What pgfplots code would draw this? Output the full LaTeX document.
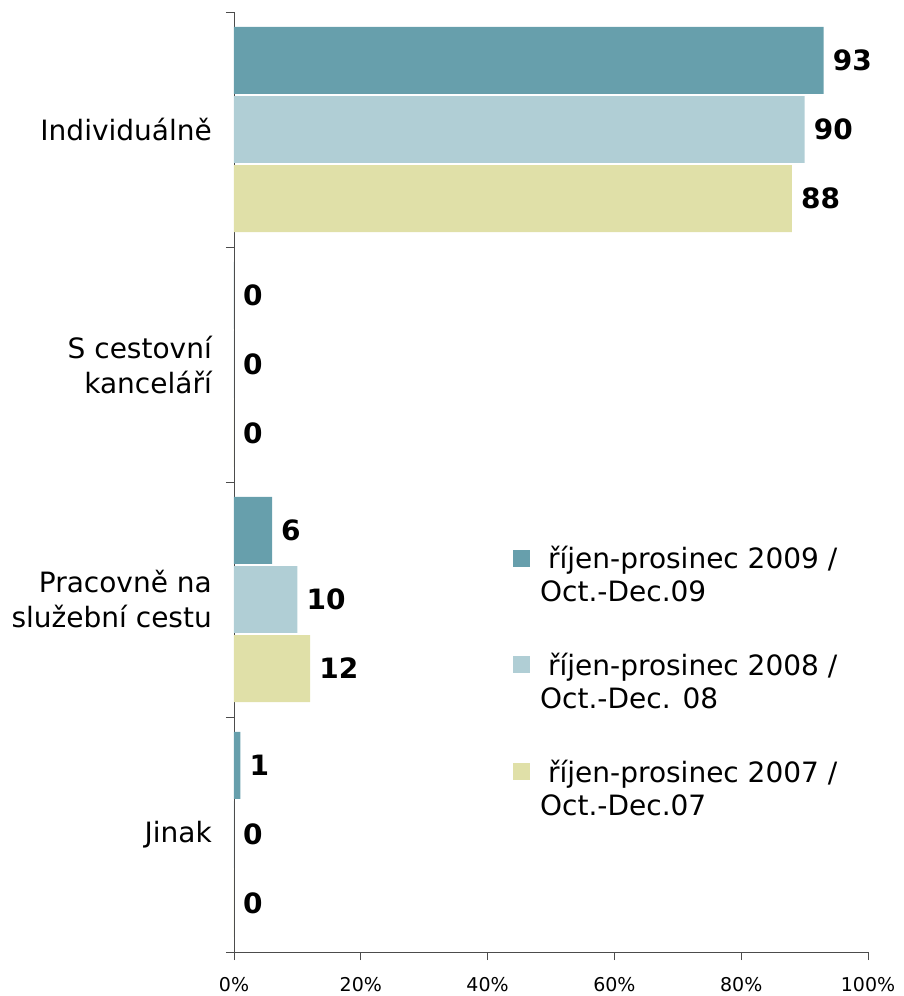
\documentclass[border=0pt]{standalone}
\usepackage{pgfplots}
\pgfplotsset{compat=1.18}
\usepackage{fontspec}
\setmainfont{DejaVu Sans}
\definecolor{c09}{RGB}{103,159,172}
\definecolor{c08}{RGB}{176,206,213}
\definecolor{c07}{RGB}{224,224,168}
\begin{document}
\begin{tikzpicture}
\useasboundingbox (-234pt,-44pt) rectangle (669pt,952pt);
\begin{axis}[
  at={(0,0)}, anchor=south west,
  scale only axis, width=634pt, height=940pt,
  xmin=0, xmax=100, ymin=-0.5, ymax=3.5, y dir=reverse,
  axis x line*=bottom, axis y line*=left,
  axis line style={black!70, line width=0.8pt, -},
  xtick={0,20,40,60,80,100},
  xticklabels={0\%,20\%,40\%,60\%,80\%,100\%},
  xticklabel style={font=\fontsize{19}{22}\selectfont, inner sep=0pt, yshift=-17pt},
  ytick={0,1,2,3},
  yticklabels={Individuálně, {S cestovní\\kanceláří}, {Pracovně na\\služební cestu}, Jinak},
  yticklabel style={font=\fontsize{28}{35}\selectfont, align=right, inner sep=0pt, xshift=-14pt},
  minor ytick={-0.5,0.5,1.5,2.5,3.5},
  major y tick style={draw=none},
  tick align=outside,
  major tick length=8pt, minor tick length=8pt,
  tick style={black!70, line width=0.8pt},
  clip=false,
  /pgf/number format/assume math mode=true,
  xbar,
  bar width=0.285,
  nodes near coords,
  every node near coord/.append style={font=\fontsize{28}{30}\selectfont\bfseries, anchor=west, inner sep=0pt, xshift=9pt, black},
  legend style={at={(0.44,0.432)}, anchor=north west, draw=none, fill=none,
    font=\fontsize{28}{33}\selectfont, row sep=50pt, column sep=10pt, inner sep=0pt,
    nodes={align=left, inner sep=0pt}},
  legend cell align=left,
  legend image code/.code={\fill[#1] (0pt,8pt) rectangle (17pt,25pt);},
]
\addplot[fill=c09, draw=none, bar shift=0pt] coordinates {(93,-0.294) (0,0.706) (6,1.706) (1,2.706)};
\addplot[fill=c08, draw=none, bar shift=0pt] coordinates {(90,0) (0,1) (10,2) (0,3)};
\addplot[fill=c07, draw=none, bar shift=0pt] coordinates {(88,0.294) (0,1.294) (12,2.294) (0,3.294)};
\legend{{\hspace*{8pt}říjen-prosinec 2009 /\\Oct.-Dec.09},{\hspace*{8pt}říjen-prosinec 2008 /\\Oct.-Dec. 08},{\hspace*{8pt}říjen-prosinec 2007 /\\Oct.-Dec.07}}
\end{axis}
\end{tikzpicture}
\end{document}
